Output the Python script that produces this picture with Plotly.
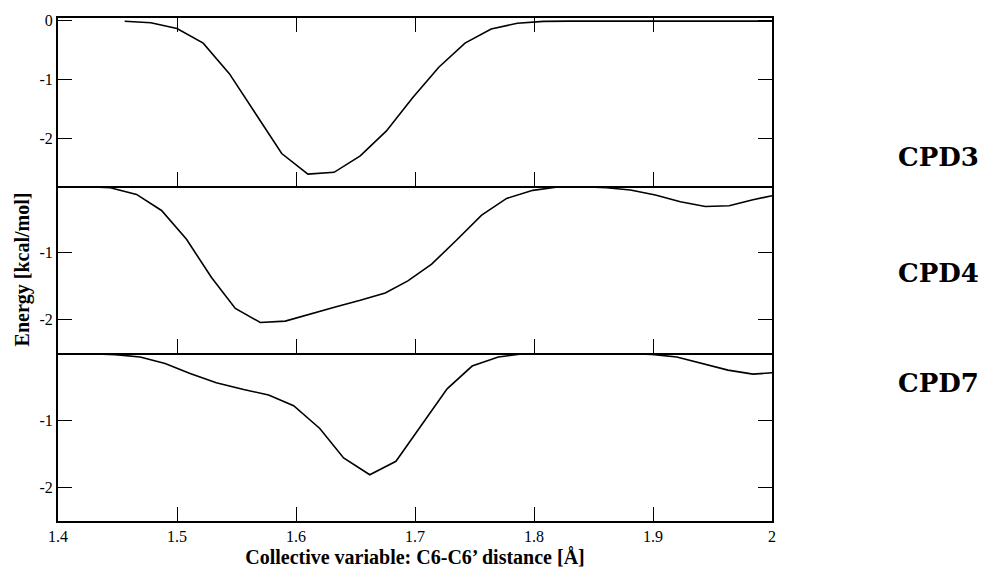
import plotly.graph_objects as go
from plotly.subplots import make_subplots

# CPD3 (top panel)
cpd3_x = [1.456, 1.478, 1.500, 1.522, 1.544, 1.566, 1.588, 1.610, 1.632, 1.654,
          1.676, 1.698, 1.720, 1.742, 1.764, 1.786, 1.808, 1.830, 1.852, 1.874,
          1.896, 1.918, 1.940, 1.962, 1.984, 2.000]
cpd3_y = [-0.007, -0.034, -0.13, -0.38, -0.90, -1.59, -2.26, -2.61, -2.58, -2.30,
          -1.875, -1.31, -0.79, -0.38, -0.14, -0.04, -0.01, -0.006, -0.005, -0.005,
          -0.005, -0.005, -0.005, -0.005, -0.005, -0.005]

# CPD4 (middle panel)
cpd4_x = [1.424, 1.444, 1.466, 1.487, 1.508, 1.529, 1.549, 1.570, 1.591, 1.612,
          1.633, 1.654, 1.675, 1.694, 1.714, 1.735, 1.756, 1.777, 1.799, 1.820,
          1.841, 1.861, 1.881, 1.902, 1.923, 1.944, 1.964, 1.984, 2.000]
cpd4_y = [-0.015, -0.03, -0.13, -0.37, -0.80, -1.37, -1.83, -2.04, -2.02, -1.91,
          -1.81, -1.71, -1.60, -1.42, -1.17, -0.81, -0.44, -0.19, -0.07, -0.02,
          -0.015, -0.03, -0.064, -0.14, -0.24, -0.31, -0.30, -0.21, -0.15]

# CPD7 (bottom panel)
cpd7_x = [1.427, 1.448, 1.469, 1.490, 1.511, 1.533, 1.556, 1.577, 1.598, 1.620,
          1.640, 1.662, 1.684, 1.706, 1.727, 1.748, 1.770, 1.791, 1.813, 1.834,
          1.855, 1.877, 1.899, 1.920, 1.941, 1.963, 1.984, 2.000]
cpd7_y = [-0.005, -0.02, -0.055, -0.15, -0.30, -0.44, -0.54, -0.62, -0.78, -1.12,
          -1.56, -1.81, -1.61, -1.05, -0.53, -0.19, -0.055, -0.005, 0.0, 0.0,
          0.0, 0.0, -0.015, -0.055, -0.145, -0.25, -0.31, -0.29]

labels = ["CPD3", "CPD4", "CPD7"]
x_tickvals = [1.4, 1.5, 1.6, 1.7, 1.8, 1.9, 2.0]
x_ticktext = ["1.4", "1.5", "1.6", "1.7", "1.8", "1.9", "2"]

fig = make_subplots(rows=3, cols=1, shared_xaxes=True, vertical_spacing=0)

series = [(cpd3_x, cpd3_y), (cpd4_x, cpd4_y), (cpd7_x, cpd7_y)]
for i, (xs, ys) in enumerate(series):
    fig.add_trace(go.Scatter(x=xs, y=ys, mode="lines", name=labels[i],
                             line=dict(color="black", width=1.6),
                             showlegend=False), row=i + 1, col=1)

font_serif = "Liberation Serif, Times New Roman, serif"
axis_common = dict(showline=True, linecolor="black", linewidth=2,
                   ticks="inside", ticklen=14, tickwidth=1, tickcolor="black",
                   showgrid=False, zeroline=False, automargin=False,
                   tickfont=dict(family=font_serif, size=16, color="black"))

for r in (1, 2, 3):
    fig.update_xaxes(range=[1.4, 2.0], tickvals=x_tickvals, ticktext=x_ticktext,
                     mirror="ticks" if r == 1 else False,
                     showticklabels=(r == 3), row=r, col=1, **axis_common)

fig.update_yaxes(range=[-2.807, 0.048], tickvals=[0, -1, -2], ticktext=["0", "-1", "-2"],
                 mirror="ticks", row=1, col=1, **axis_common)
fig.update_yaxes(range=[-2.5, 0], tickvals=[-1, -2], ticktext=["-1", "-2"],
                 mirror="ticks", row=2, col=1, **axis_common)
fig.update_yaxes(range=[-2.5, 0], tickvals=[-1, -2], ticktext=["-1", "-2"],
                 mirror="ticks", row=3, col=1, **axis_common)

fig.update_xaxes(title=dict(text="<b>Collective variable: C6-C6’ distance [Å]</b>",
                            font=dict(family=font_serif, size=20, color="black"),
                            standoff=6), row=3, col=1)
fig.update_yaxes(title=dict(text="<b>Energy [kcal/mol]</b>",
                            font=dict(family=font_serif, size=20, color="black"),
                            standoff=4), row=2, col=1)

label_y = [0.723, 0.4926, 0.274]
for lab, yy in zip(labels, label_y):
    fig.add_annotation(text="<b>" + lab + "</b>", xref="paper", yref="paper",
                       x=1.2325, y=yy, xanchor="center", yanchor="middle",
                       showarrow=False,
                       font=dict(family="DejaVu Serif, serif", size=26, color="black"))

fig.update_layout(width=989, height=570,
                  margin=dict(l=58, r=217, t=17.5, b=49),
                  paper_bgcolor="white", plot_bgcolor="white")

fig.write_html("out.html")
